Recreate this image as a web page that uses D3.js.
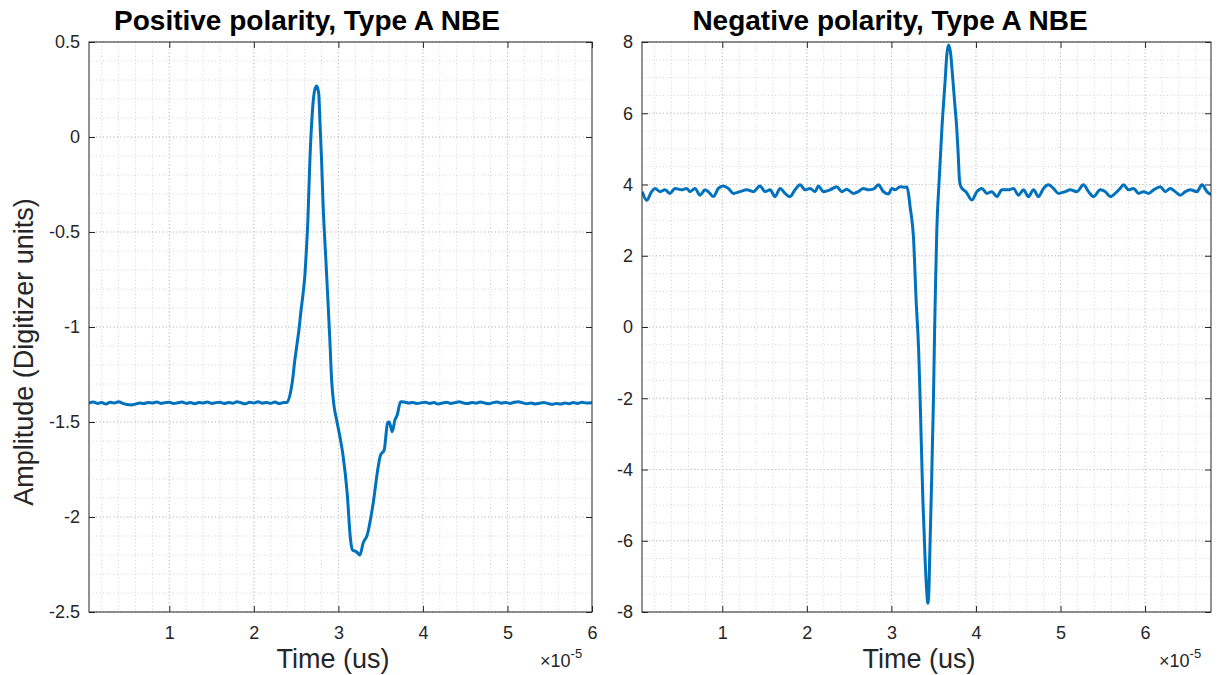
<!DOCTYPE html>
<html>
<head>
<meta charset="utf-8">
<script src="https://cdn.jsdelivr.net/npm/d3@7/dist/d3.min.js"></script>
<style>
body{margin:0;background:#fff;}
text{font-family:"Liberation Sans",Arial,Helvetica,sans-serif;}
</style>
</head>
<body>
<svg id="chart" width="1218" height="675"></svg>
<script>
// time values are in units of 1e-5 (the axis shows x10^-5)
var posTime = [0.05,0.10,0.15,0.20,0.25,0.30,0.35,0.40,0.45,0.50,0.55,0.60,0.65,0.70,0.75,0.80,0.85,0.90,0.95,1.00,
    1.05,1.10,1.15,1.20,1.25,1.30,1.35,1.40,1.45,1.50,1.55,1.60,1.65,1.70,1.75,1.80,1.85,1.90,1.95,2.00,
    2.05,2.10,2.15,2.20,2.25,2.30,2.35,
    2.387,2.458,2.485,2.509,2.533,2.556,2.580,2.604,2.615,2.639,2.663,2.686,2.710,2.726,2.742,2.756,2.769,2.781,2.801,2.817,
    2.852,2.876,2.899,2.920,2.947,2.979,3.018,3.057,3.104,3.144,3.168,3.215,3.254,3.293,3.341,3.412,3.471,3.499,
    3.542,3.582,3.601,3.637,3.669,3.696,3.736,
    3.78,3.83,3.88,3.93,3.98,4.03,4.08,4.13,4.18,4.23,4.28,4.33,4.38,4.43,4.48,4.53,4.58,4.63,4.68,4.73,
    4.78,4.83,4.88,4.93,4.98,5.03,5.08,5.13,5.18,5.23,5.28,5.33,5.38,5.43,5.48,5.53,5.58,5.63,5.68,5.73,
    5.78,5.83,5.88,5.93,6.00];
var posAmp = [-1.400,-1.395,-1.402,-1.398,-1.405,-1.396,-1.400,-1.393,-1.402,-1.408,-1.410,-1.406,-1.400,-1.403,-1.397,-1.400,-1.395,-1.402,-1.398,-1.396,
    -1.403,-1.399,-1.395,-1.402,-1.398,-1.404,-1.397,-1.400,-1.395,-1.402,-1.398,-1.396,-1.403,-1.397,-1.401,-1.394,-1.399,-1.404,-1.396,-1.400,
    -1.393,-1.401,-1.397,-1.402,-1.395,-1.403,-1.398,
    -1.398,-1.279,-1.174,-1.095,-1.016,-0.921,-0.832,-0.726,-0.647,-0.437,-0.121,0.089,0.221,0.257,0.268,0.255,0.221,0.089,-0.121,-0.332,
    -0.647,-0.858,-1.068,-1.279,-1.411,-1.489,-1.577,-1.683,-1.874,-2.121,-2.174,-2.183,-2.200,-2.137,-2.095,-1.926,-1.735,-1.674,
    -1.647,-1.505,-1.500,-1.551,-1.489,-1.463,-1.393,
    -1.395,-1.400,-1.397,-1.403,-1.399,-1.396,-1.402,-1.398,-1.405,-1.400,-1.396,-1.402,-1.398,-1.393,-1.400,-1.403,-1.397,-1.401,-1.395,-1.400,
    -1.404,-1.398,-1.395,-1.401,-1.397,-1.402,-1.396,-1.393,-1.399,-1.404,-1.400,-1.405,-1.401,-1.398,-1.403,-1.407,-1.402,-1.405,-1.400,-1.404,
    -1.398,-1.402,-1.396,-1.400,-1.398];

var negTime = [0.053,0.105,0.164,0.204,0.263,0.322,0.381,0.440,0.520,0.579,0.618,0.677,0.736,0.795,0.834,0.893,0.953,1.012,1.071,1.130,
    1.209,1.289,1.367,1.446,1.505,1.565,1.624,1.683,1.742,1.801,1.860,1.920,1.979,2.038,2.097,2.136,2.195,2.275,2.354,2.413,
    2.472,2.550,2.609,2.669,2.728,2.787,2.846,2.905,2.965,3.005,3.044,3.103,3.162,
    3.182,3.205,3.221,3.240,3.260,3.292,3.322,3.340,3.372,3.402,3.417,3.431,3.444,3.450,3.470,3.497,3.511,3.523,3.537,3.565,3.596,
    3.636,3.655,3.675,3.698,3.727,3.750,3.774,3.790,3.805,3.820,3.833,3.884,3.951,
    4.011,4.070,4.129,4.188,4.247,4.307,4.385,4.444,4.503,4.562,4.621,4.680,4.740,4.799,4.858,4.917,4.976,5.056,5.115,5.194,
    5.272,5.331,5.391,5.470,5.529,5.588,5.647,5.706,5.746,5.805,5.864,5.923,5.982,6.041,6.101,6.180,6.239,6.298,6.357,6.417,
    6.476,6.535,6.614,6.673,6.732,6.780];
var negAmp = [3.80,3.56,3.80,3.89,3.80,3.85,3.75,3.89,3.85,3.89,3.80,3.89,3.70,3.85,3.80,3.66,3.89,3.96,3.89,3.75,
    3.80,3.85,3.80,3.96,3.80,3.85,3.66,3.89,3.75,3.66,3.85,3.99,3.85,3.89,3.80,3.96,3.80,3.85,3.94,3.80,
    3.87,3.75,3.80,3.89,3.85,3.87,3.99,3.80,3.73,3.89,3.85,3.94,3.92,
    3.938,3.70,3.377,3.05,2.55,0.758,-0.646,-2.049,-4.856,-6.729,-7.38,-7.756,-7.38,-6.729,-4.856,-2.049,-0.084,1.319,2.723,4.126,5.530,
    6.933,7.64,7.916,7.72,6.933,6.25,5.530,4.85,4.126,3.95,3.90,3.79,3.565,
    3.80,3.89,3.75,3.80,3.66,3.85,3.85,3.89,3.70,3.85,3.66,3.85,3.66,3.89,3.99,3.89,3.75,3.80,3.85,3.80,
    3.99,3.80,3.66,3.85,3.80,3.66,3.75,3.89,3.99,3.85,3.89,3.75,3.80,3.75,3.85,3.94,3.80,3.89,3.80,3.70,
    3.80,3.85,3.80,3.99,3.80,3.71];

var xTickValues = [1,2,3,4,5,6];
var posYTicks = [-2.5,-2,-1.5,-1,-0.5,0,0.5];
var negYTicks = [-8,-6,-4,-2,0,2,4,6,8];
var titles = ["Positive polarity, Type A NBE","Negative polarity, Type A NBE"];
var xLabel = "Time (us)";
var yLabel = "Amplitude (Digitizer units)";

var svg = d3.select("#chart");
svg.append("rect").attr("width",1218).attr("height",675).attr("fill","#fff");

var axisColor = "#262626";

function drawPanel(p, idx) {
    var g = svg.append("g");
    var x = d3.scaleLinear().domain(p.xDomain).range([p.left, p.right]);
    var y = d3.scaleLinear().domain(p.yDomain).range([p.bottom, p.top]);

    // minor grid
    var xMinor = d3.range(0, p.xDomain[1] + 1e-9, 0.2).filter(function(v){ return v > p.xDomain[0] && v < p.xDomain[1]; });
    var yMinor = d3.range(p.yDomain[0], p.yDomain[1] + 1e-9, p.yMinorStep);
    g.selectAll(".xminor").data(xMinor).enter().append("line")
        .attr("x1", function(d){ return x(d); }).attr("x2", function(d){ return x(d); })
        .attr("y1", p.top).attr("y2", p.bottom)
        .attr("stroke", "#d4d4d4").attr("stroke-width", 1).attr("stroke-dasharray", "1,2.5");
    g.selectAll(".yminor").data(yMinor).enter().append("line")
        .attr("x1", p.left).attr("x2", p.right)
        .attr("y1", function(d){ return y(d); }).attr("y2", function(d){ return y(d); })
        .attr("stroke", "#d4d4d4").attr("stroke-width", 1).attr("stroke-dasharray", "1,2.5");

    // major grid
    g.selectAll(".xmajor").data(xTickValues.filter(function(v){ return v < p.xDomain[1]; })).enter().append("line")
        .attr("x1", function(d){ return x(d); }).attr("x2", function(d){ return x(d); })
        .attr("y1", p.top).attr("y2", p.bottom)
        .attr("stroke", "#c0c0c0").attr("stroke-width", 1).attr("stroke-dasharray", "1,2.5");
    g.selectAll(".ymajor").data(p.yTicks).enter().append("line")
        .attr("x1", p.left).attr("x2", p.right)
        .attr("y1", function(d){ return y(d); }).attr("y2", function(d){ return y(d); })
        .attr("stroke", "#c0c0c0").attr("stroke-width", 1).attr("stroke-dasharray", "1,2.5");

    // the waveform
    var clipId = "clip" + idx;
    svg.append("clipPath").attr("id", clipId).append("rect")
        .attr("x", p.left).attr("y", p.top - 2).attr("width", p.right - p.left).attr("height", p.bottom - p.top + 4);
    var line = d3.line()
        .curve(d3.curveMonotoneX)
        .x(function(d){ return x(d[0]); })
        .y(function(d){ return y(d[1]); });
    g.append("path")
        .datum(d3.zip(p.time, p.amp))
        .attr("clip-path", "url(#" + clipId + ")")
        .attr("fill", "none")
        .attr("stroke", "#0072BD")
        .attr("stroke-width", 3)
        .attr("stroke-linejoin", "round")
        .attr("d", line);

    // axes: bottom/left with labels, top/right mirrored ticks
    var tl = 6;
    var xAx = d3.axisBottom(x).tickValues(xTickValues).tickSize(-tl).tickPadding(14).tickFormat(d3.format("d"));
    var yAx = d3.axisLeft(y).tickValues(p.yTicks).tickSize(-tl).tickPadding(9).tickFormat(function(d){ return String(d); });
    var xAxTop = d3.axisTop(x).tickValues(xTickValues).tickSize(-tl).tickFormat("");
    var yAxRight = d3.axisRight(y).tickValues(p.yTicks).tickSize(-tl).tickFormat("");

    var gx = g.append("g").attr("transform", "translate(0," + p.bottom + ")").call(xAx);
    var gy = g.append("g").attr("transform", "translate(" + p.left + ",0)").call(yAx);
    var gxt = g.append("g").attr("transform", "translate(0," + p.top + ")").call(xAxTop);
    var gyr = g.append("g").attr("transform", "translate(" + p.right + ",0)").call(yAxRight);
    [gx, gy, gxt, gyr].forEach(function(a){
        a.select(".domain").remove();
        a.selectAll("line").attr("stroke", axisColor).attr("stroke-width", 1);
        a.selectAll("text").attr("fill", axisColor).style("font-size", "18px").attr("font-family", null);
    });

    g.append("rect")
        .attr("x", p.left).attr("y", p.top)
        .attr("width", p.right - p.left).attr("height", p.bottom - p.top)
        .attr("fill", "none").attr("stroke", axisColor).attr("stroke-width", 1);

    // title
    g.append("text")
        .attr("x", p.titleX).attr("y", 30)
        .attr("text-anchor", "middle")
        .style("font-size", "28px").style("font-weight", "bold")
        .attr("fill", "#000")
        .text(p.title);

    // x label
    g.append("text")
        .attr("x", p.xLabelX).attr("y", 668)
        .attr("text-anchor", "middle")
        .style("font-size", "27px")
        .attr("fill", axisColor)
        .text(xLabel);

    // x10^-5 exponent
    var ex = g.append("text")
        .attr("x", p.right - 52).attr("y", 667)
        .style("font-size", "18px")
        .attr("fill", axisColor);
    ex.append("tspan").text("\u00d710");
    ex.append("tspan").attr("dy", -9).style("font-size", "13px").text("-5");
}

var panels = [
    {left: 89, right: 592, top: 42, bottom: 612, xDomain: [0.05, 6.0], yDomain: [-2.5, 0.5],
        yTicks: posYTicks, yMinorStep: 0.1, time: posTime, amp: posAmp, title: titles[0], titleX: 307, xLabelX: 333},
    {left: 642, right: 1211, top: 42, bottom: 612, xDomain: [0.05, 6.78], yDomain: [-8, 8],
        yTicks: negYTicks, yMinorStep: 0.5, time: negTime, amp: negAmp, title: titles[1], titleX: 890, xLabelX: 919}
];
panels.forEach(drawPanel);

// shared y label on the left panel
svg.append("text")
    .attr("transform", "translate(33,352) rotate(-90)")
    .attr("text-anchor", "middle")
    .style("font-size", "27px")
    .attr("fill", axisColor)
    .text(yLabel);
</script>
</body>
</html>
